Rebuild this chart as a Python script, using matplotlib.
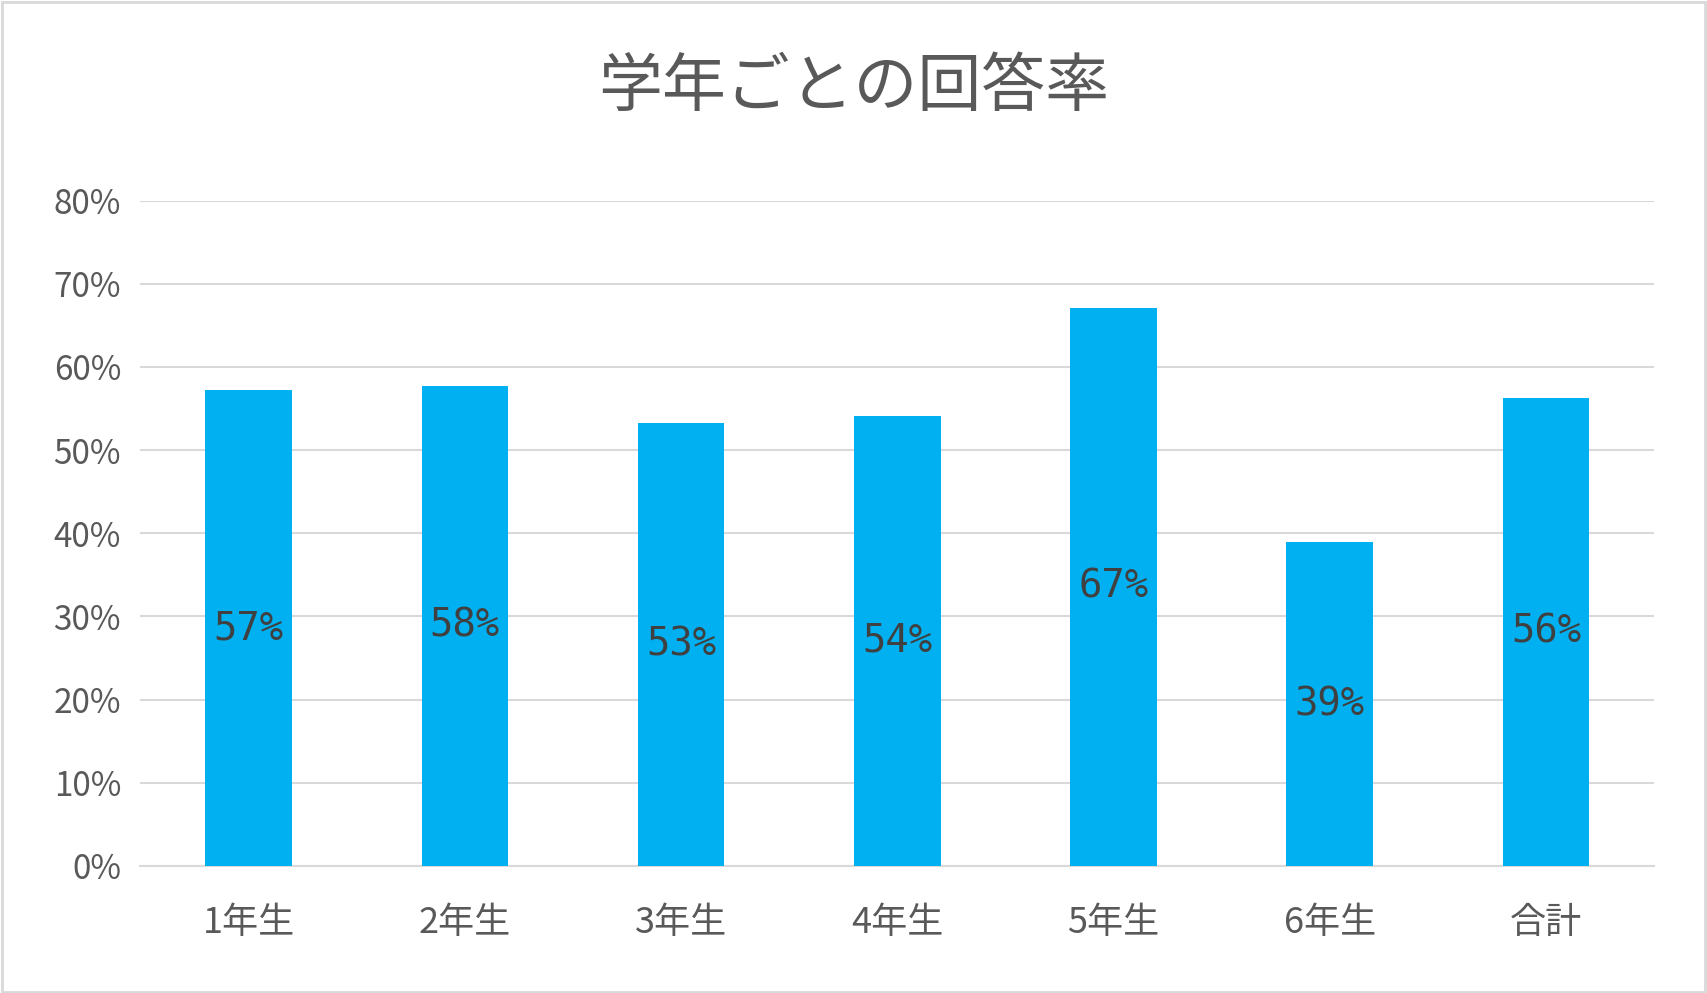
import matplotlib
matplotlib.use("Agg")
import matplotlib.pyplot as plt
from matplotlib.patches import Rectangle

categories = ["1年生", "2年生", "3年生", "4年生", "5年生", "6年生", "合計"]
values = [57.2, 57.7, 53.3, 54.1, 67.1, 38.9, 56.3]
yticks = [0, 10, 20, 30, 40, 50, 60, 70, 80]
title = "学年ごとの回答率"

plt.rcParams["font.family"] = ["Noto Sans CJK JP"]
fig = plt.figure(figsize=(17.07, 9.93), dpi=100)
fig.patches.append(Rectangle((0.001, 0.001), 0.998, 0.997, transform=fig.transFigure,
                             fill=False, edgecolor="#d9d9d9", linewidth=2))
ax = fig.add_axes([0.0823, 0.128, 0.8867, 0.670])
x = range(len(categories))
ax.bar(x, values, width=0.40, color="#00B0F0", zorder=3)
for i, v in enumerate(values):
    ax.text(i, v / 2, f"{round(v):d}%", ha="center", va="center", fontsize=28,
            color="#404040", fontfamily="DejaVu Sans Mono", zorder=4)
ax.set_ylim(0, 80)
ax.set_xlim(-0.5, len(categories) - 0.5)
ax.set_yticks(yticks)
ax.set_yticklabels([f"{t}%" for t in yticks], fontsize=24, color="#595959")
ax.set_xticks(list(x))
ax.set_xticklabels(categories, fontsize=26, color="#595959")
ax.grid(axis="y", color="#d9d9d9", linewidth=1.5, zorder=0)
for s in ["top", "right", "left"]:
    ax.spines[s].set_visible(False)
ax.spines["bottom"].set_color("#d9d9d9")
ax.spines["bottom"].set_linewidth(1.5)
ax.tick_params(length=0, pad=14)
ax.tick_params(axis="x", pad=28)
fig.text(0.5, 0.912, title, ha="center", va="center", fontsize=46, color="#595959")
fig.savefig("out.png", dpi=100)
